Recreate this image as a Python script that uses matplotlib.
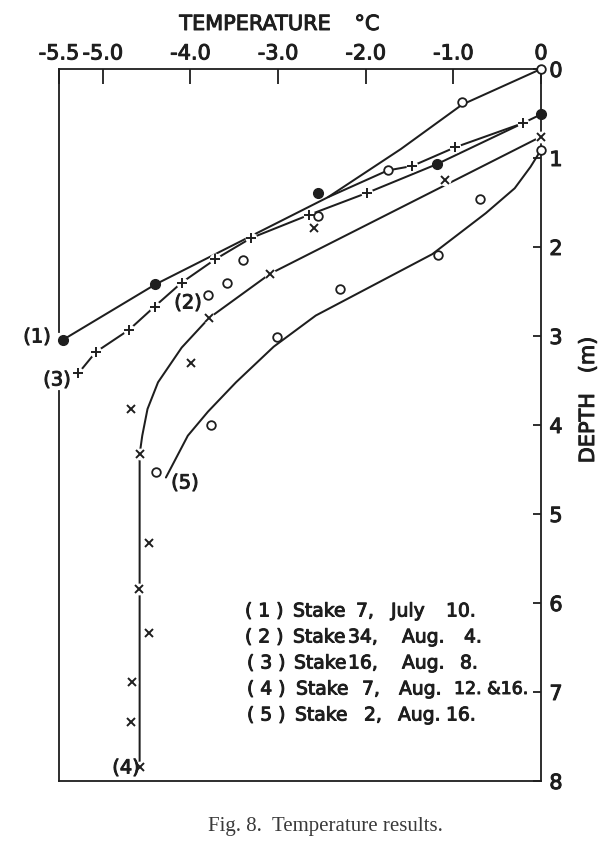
import matplotlib
matplotlib.use("Agg")
import matplotlib.pyplot as plt
import matplotlib.patheffects as pe

# ---------------- data ----------------
temp_ticks = [-5.5, -5.0, -4.0, -3.0, -2.0, -1.0, 0.0]
temp_tick_labels = ["-5.5", "-5.0", "-4.0", "-3.0", "-2.0", "-1.0", "0"]
depth_ticks = [0, 1, 2, 3, 4, 5, 6, 7, 8]
depth_tick_labels = ["0", "1", "2", "3", "4", "5", "6", "7", "8"]

# (1) Stake 7, July 10  -- filled dots
s1_temp = [0.0, -1.19, -2.55, -4.40, -5.45]
s1_depth = [0.51, 1.07, 1.39, 2.42, 3.04]
curve1_temp = [0.0, -0.21, -0.98, -1.47, -1.75, -2.43, -4.40, -5.45]
curve1_depth = [0.51, 0.61, 0.88, 1.09, 1.14, 1.44, 2.42, 3.04]

# (2) Stake 34, Aug. 4  -- open circles
s2_temp = [0.0, -0.90, -1.75, -2.54, -3.40, -3.58, -3.80]
s2_depth = [0.0, 0.37, 1.14, 1.65, 2.15, 2.40, 2.54]
curve2_temp = [0.0, -0.90, -1.60, -2.43]
curve2_depth = [0.0, 0.40, 0.90, 1.44]

# (3) Stake 16, Aug. 8  -- plus signs
s3_temp = [-0.21, -0.98, -1.47, -1.98, -2.65, -3.31, -3.72, -4.10, -4.41, -4.70, -5.08, -5.28]
s3_depth = [0.61, 0.88, 1.09, 1.39, 1.64, 1.90, 2.14, 2.40, 2.67, 2.93, 3.18, 3.42]
curve3_temp = [-0.21, -1.19, -1.98, -2.65, -3.31, -3.72, -4.10, -4.41, -4.70, -5.08, -5.28]
curve3_depth = [0.61, 1.07, 1.39, 1.64, 1.90, 2.14, 2.40, 2.67, 2.93, 3.18, 3.42]

# (4) Stake 7, Aug. 12 & 16  -- crosses
s4_temp = [0.0, -1.10, -2.59, -3.09, -3.79, -3.99, -4.68, -4.58, -4.47, -4.59, -4.47, -4.67, -4.68, -4.58]
s4_depth = [0.76, 1.25, 1.79, 2.30, 2.80, 3.30, 3.82, 4.33, 5.33, 5.84, 6.34, 6.89, 7.34, 7.84]
curve4_temp = [0.0, -3.09, -3.79, -4.10, -4.37, -4.49, -4.55, -4.58, -4.58]
curve4_depth = [0.76, 2.30, 2.80, 3.13, 3.52, 3.82, 4.12, 4.33, 7.84]

# (5) Stake 2, Aug. 16  -- open circles
s5_temp = [0.0, -0.70, -1.17, -2.29, -3.01, -3.77, -4.39]
s5_depth = [0.91, 1.46, 2.09, 2.47, 3.01, 4.00, 4.53]
curve5_temp = [0.0, -0.12, -0.30, -0.63, -1.24, -2.57, -3.05, -3.48, -3.80, -4.03, -4.28]
curve5_depth = [0.91, 1.10, 1.34, 1.62, 2.08, 2.77, 3.12, 3.52, 3.85, 4.12, 4.59]

curve_labels = ["(1)", "(2)", "(3)", "(4)", "(5)"]
legend_ids = ["( 1 )", "( 2 )", "( 3 )", "( 4 )", "( 5 )"]
legend_stakes = ["7,", "34,", "16,", "7,", "2,"]
legend_months = ["July", "Aug.", "Aug.", "Aug.", "Aug."]
legend_days = ["10.", "4.", "8.", "12. &16.", "16."]
caption = "Fig. 8.  Temperature results."

# ---------------- layout ----------------
W, H = 616, 852
INK = "#1e1e1e"
plt.rcParams['font.family'] = ['DejaVu Sans']
thick = [pe.withStroke(linewidth=0.7, foreground=INK)]

fig = plt.figure(figsize=(W / 100, H / 100), dpi=100)
fig.patch.set_facecolor("white")
ax = fig.add_axes([59 / W, 1 - 781 / H, 482 / W, 712 / H])
ax.set_xlim(temp_ticks[0], temp_ticks[-1])
ax.set_ylim(depth_ticks[-1], depth_ticks[0])

def fx(px):
    return px / W

def fy(py):
    return 1 - py / H

# axes frame
for side in ["top", "right", "bottom"]:
    ax.spines[side].set_linewidth(1.3)
    ax.spines[side].set_color(INK)
ax.spines["left"].set_visible(False)
xmin = temp_ticks[0]
ax.plot([xmin, xmin], [0, 2.96], color=INK, lw=1.3, clip_on=False, zorder=1)
ax.plot([xmin, xmin], [3.62, 8], color=INK, lw=1.3, clip_on=False, zorder=1)

ax.xaxis.tick_top()
ax.set_xticks(temp_ticks)
ax.set_xticklabels(temp_tick_labels)
ax.tick_params(axis="x", direction="in", length=11, width=1.3, color=INK,
               pad=4, labelsize=15, labelcolor=INK)
ax.yaxis.tick_right()
ax.set_yticks(depth_ticks)
ax.set_yticklabels(depth_tick_labels)
ax.tick_params(axis="y", direction="in", length=6, width=1.3, color=INK,
               pad=6, labelsize=15, labelcolor=INK)
for lab in ax.get_xticklabels() + ax.get_yticklabels():
    lab.set_path_effects(thick)

# curves
lw = 1.45
for ct, cd in [(curve1_temp, curve1_depth), (curve2_temp, curve2_depth),
               (curve3_temp, curve3_depth), (curve4_temp, curve4_depth),
               (curve5_temp, curve5_depth)]:
    ax.plot(ct, cd, color=INK, lw=lw, solid_capstyle="round",
            solid_joinstyle="round", clip_on=False, zorder=2)

# white gaps under + and x markers
for st, sd in [(s3_temp, s3_depth), (s4_temp, s4_depth)]:
    ax.plot(st, sd, ls="none", marker="o", ms=8.5, mfc="white", mec="none",
            clip_on=False, zorder=3)

# markers
ax.plot(s1_temp, s1_depth, ls="none", marker="o", ms=7, mfc=INK, mec=INK,
        clip_on=False, zorder=4)
for st, sd in [(s2_temp, s2_depth), (s5_temp, s5_depth)]:
    ax.plot(st, sd, ls="none", marker="o", ms=6.2, mfc="white", mec=INK, mew=1.3,
            clip_on=False, zorder=4)
ax.plot(s3_temp, s3_depth, ls="none", marker="+", ms=7, mec=INK, mew=1.4,
        clip_on=False, zorder=4)
ax.plot(s4_temp, s4_depth, ls="none", marker="x", ms=5.5, mec=INK, mew=1.4,
        clip_on=False, zorder=4)

txt = dict(color=INK, path_effects=thick)

# curve labels
label_pos = [(37, 337), (188, 303), (57, 380), (126, 768), (185, 483)]
for lab, (px, py) in zip(curve_labels, label_pos):
    fig.text(fx(px), fy(py), lab, ha="center", va="center", fontsize=14, **txt)

# axis titles
fig.text(fx(255), fy(24), "TEMPERATURE", ha="center", va="center", fontsize=15, **txt)
fig.text(fx(367), fy(24), "°C", ha="center", va="center", fontsize=15, **txt)
fig.text(fx(588), fy(400), "DEPTH   (m)", ha="center", va="center", rotation=90,
         fontsize=15, **txt)

# legend block
row_y = [611, 637, 663, 689, 715]
id_x = [245, 245, 247, 247, 247]
stake_x = [293, 293, 294, 296, 295]
num_x = [356, 348, 348, 362, 364]
month_x = [391, 402, 402, 399, 398]
day_x = [446, 464, 460, 454, 446]
for i in range(5):
    y = fy(row_y[i])
    kw = dict(ha="left", va="center", fontsize=13.5, **txt)
    fig.text(fx(id_x[i]), y, legend_ids[i], **kw)
    fig.text(fx(stake_x[i]), y, "Stake", **kw)
    fig.text(fx(num_x[i]), y, legend_stakes[i], **kw)
    fig.text(fx(month_x[i]), y, legend_months[i], **kw)
    day_kw = dict(kw)
    if len(legend_days[i]) > 4:
        day_kw["fontsize"] = 12.5
    fig.text(fx(day_x[i]), y, legend_days[i], **day_kw)

fig.text(fx(325), fy(827), caption, ha="center", va="center", fontsize=15,
         family=["Liberation Serif", "DejaVu Serif"], color="#3a3a3a")

fig.savefig("out.png", dpi=100, facecolor="white")
